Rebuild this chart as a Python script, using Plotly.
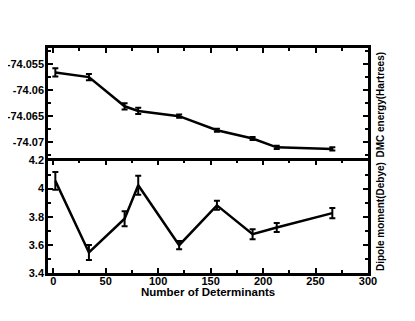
import plotly.graph_objs as go
from plotly.subplots import make_subplots

# number of determinants
ndet = [2, 34, 68, 81, 120, 156, 190, 213, 266]

# DMC energy (Hartrees) and its error bars
energy = [-74.0566, -74.0575, -74.0631, -74.0640, -74.0650, -74.0677, -74.0693, -74.0710, -74.0713]
energy_err = [0.0008, 0.0006, 0.0006, 0.0006, 0.0003, 0.0003, 0.0003, 0.0003, 0.0003]

# dipole moment (Debye) and its error bars
dipole = [4.055, 3.546, 3.786, 4.024, 3.598, 3.881, 3.676, 3.724, 3.826]
dipole_err = [0.063, 0.054, 0.053, 0.068, 0.030, 0.032, 0.036, 0.032, 0.036]

x_ticks = [0, 50, 100, 150, 200, 250, 300]
e_ticks = [-74.055, -74.06, -74.065, -74.07]
e_labels = ["-74.055", "-74.06", "-74.065", "-74.07"]
d_ticks = [3.4, 3.6, 3.8, 4.0, 4.2]
d_labels = ["3.4", "3.6", "3.8", "4", "4.2"]

font = dict(family="Liberation Sans, Arial, sans-serif", size=11, color="black", weight="bold")

fig = make_subplots(rows=2, cols=1, shared_xaxes=True, vertical_spacing=0)

err_style = dict(type="data", color="black", thickness=2, width=3)
fig.add_trace(go.Scatter(x=ndet, y=energy, mode="lines",
                         line=dict(color="black", width=2.5),
                         error_y=dict(array=energy_err, **err_style)), row=1, col=1)
fig.add_trace(go.Scatter(x=ndet, y=dipole, mode="lines",
                         line=dict(color="black", width=2.5),
                         error_y=dict(array=dipole_err, **err_style)), row=2, col=1)

axis_style = dict(showline=True, linecolor="black", linewidth=2.5, mirror="allticks",
                  ticks="inside", ticklen=5, tickwidth=2, tickcolor="black",
                  showgrid=False, zeroline=False, tickfont=font, automargin=False)

fig.update_xaxes(axis_style, range=[-5, 300], tickvals=x_ticks, ticklabelstandoff=-4,
                 minor=dict(ticks="inside", ticklen=3, tickwidth=1.5, tickcolor="black",
                            dtick=25, tick0=0, showgrid=False))
fig.update_yaxes(axis_style, ticklabelstandoff=-1)
# the two panels overlap by the line width so the shared border is one line
fig.update_yaxes(range=[-74.0740, -74.0519], tickvals=e_ticks, ticktext=e_labels,
                 minor=dict(ticks="inside", ticklen=3, tickwidth=1.5, tickcolor="black",
                            dtick=0.0025, tick0=-74.055, showgrid=False),
                 domain=[0.489, 1], row=1, col=1)
fig.update_yaxes(range=[3.4, 4.2], tickvals=d_ticks, ticktext=d_labels,
                 minor=dict(ticks="inside", ticklen=3, tickwidth=1.5, tickcolor="black",
                            dtick=0.1, tick0=3.4, showgrid=False),
                 domain=[0, 0.5], row=2, col=1)

# axis titles placed as annotations
fig.add_annotation(text="Number of Determinants", xref="paper", yref="paper", x=0.5, y=0,
                   yshift=-19, xanchor="center", yanchor="middle", showarrow=False,
                   font=dict(font, size=11.5))
fig.add_annotation(text="DMC energy(Hartrees)", xref="paper", yref="paper", x=1.015, y=0.75,
                   xanchor="left", yanchor="middle", textangle=-90, showarrow=False,
                   font=dict(font, size=10))
fig.add_annotation(text="Dipole moment(Debye)", xref="paper", yref="paper", x=1.015, y=0.25,
                   xanchor="left", yanchor="middle", textangle=-90, showarrow=False,
                   font=dict(font, size=10))

fig.update_layout(
    showlegend=False,
    plot_bgcolor="white",
    paper_bgcolor="white",
    margin=dict(l=40, r=39, t=40, b=40),
)

fig.write_html("out.html")
